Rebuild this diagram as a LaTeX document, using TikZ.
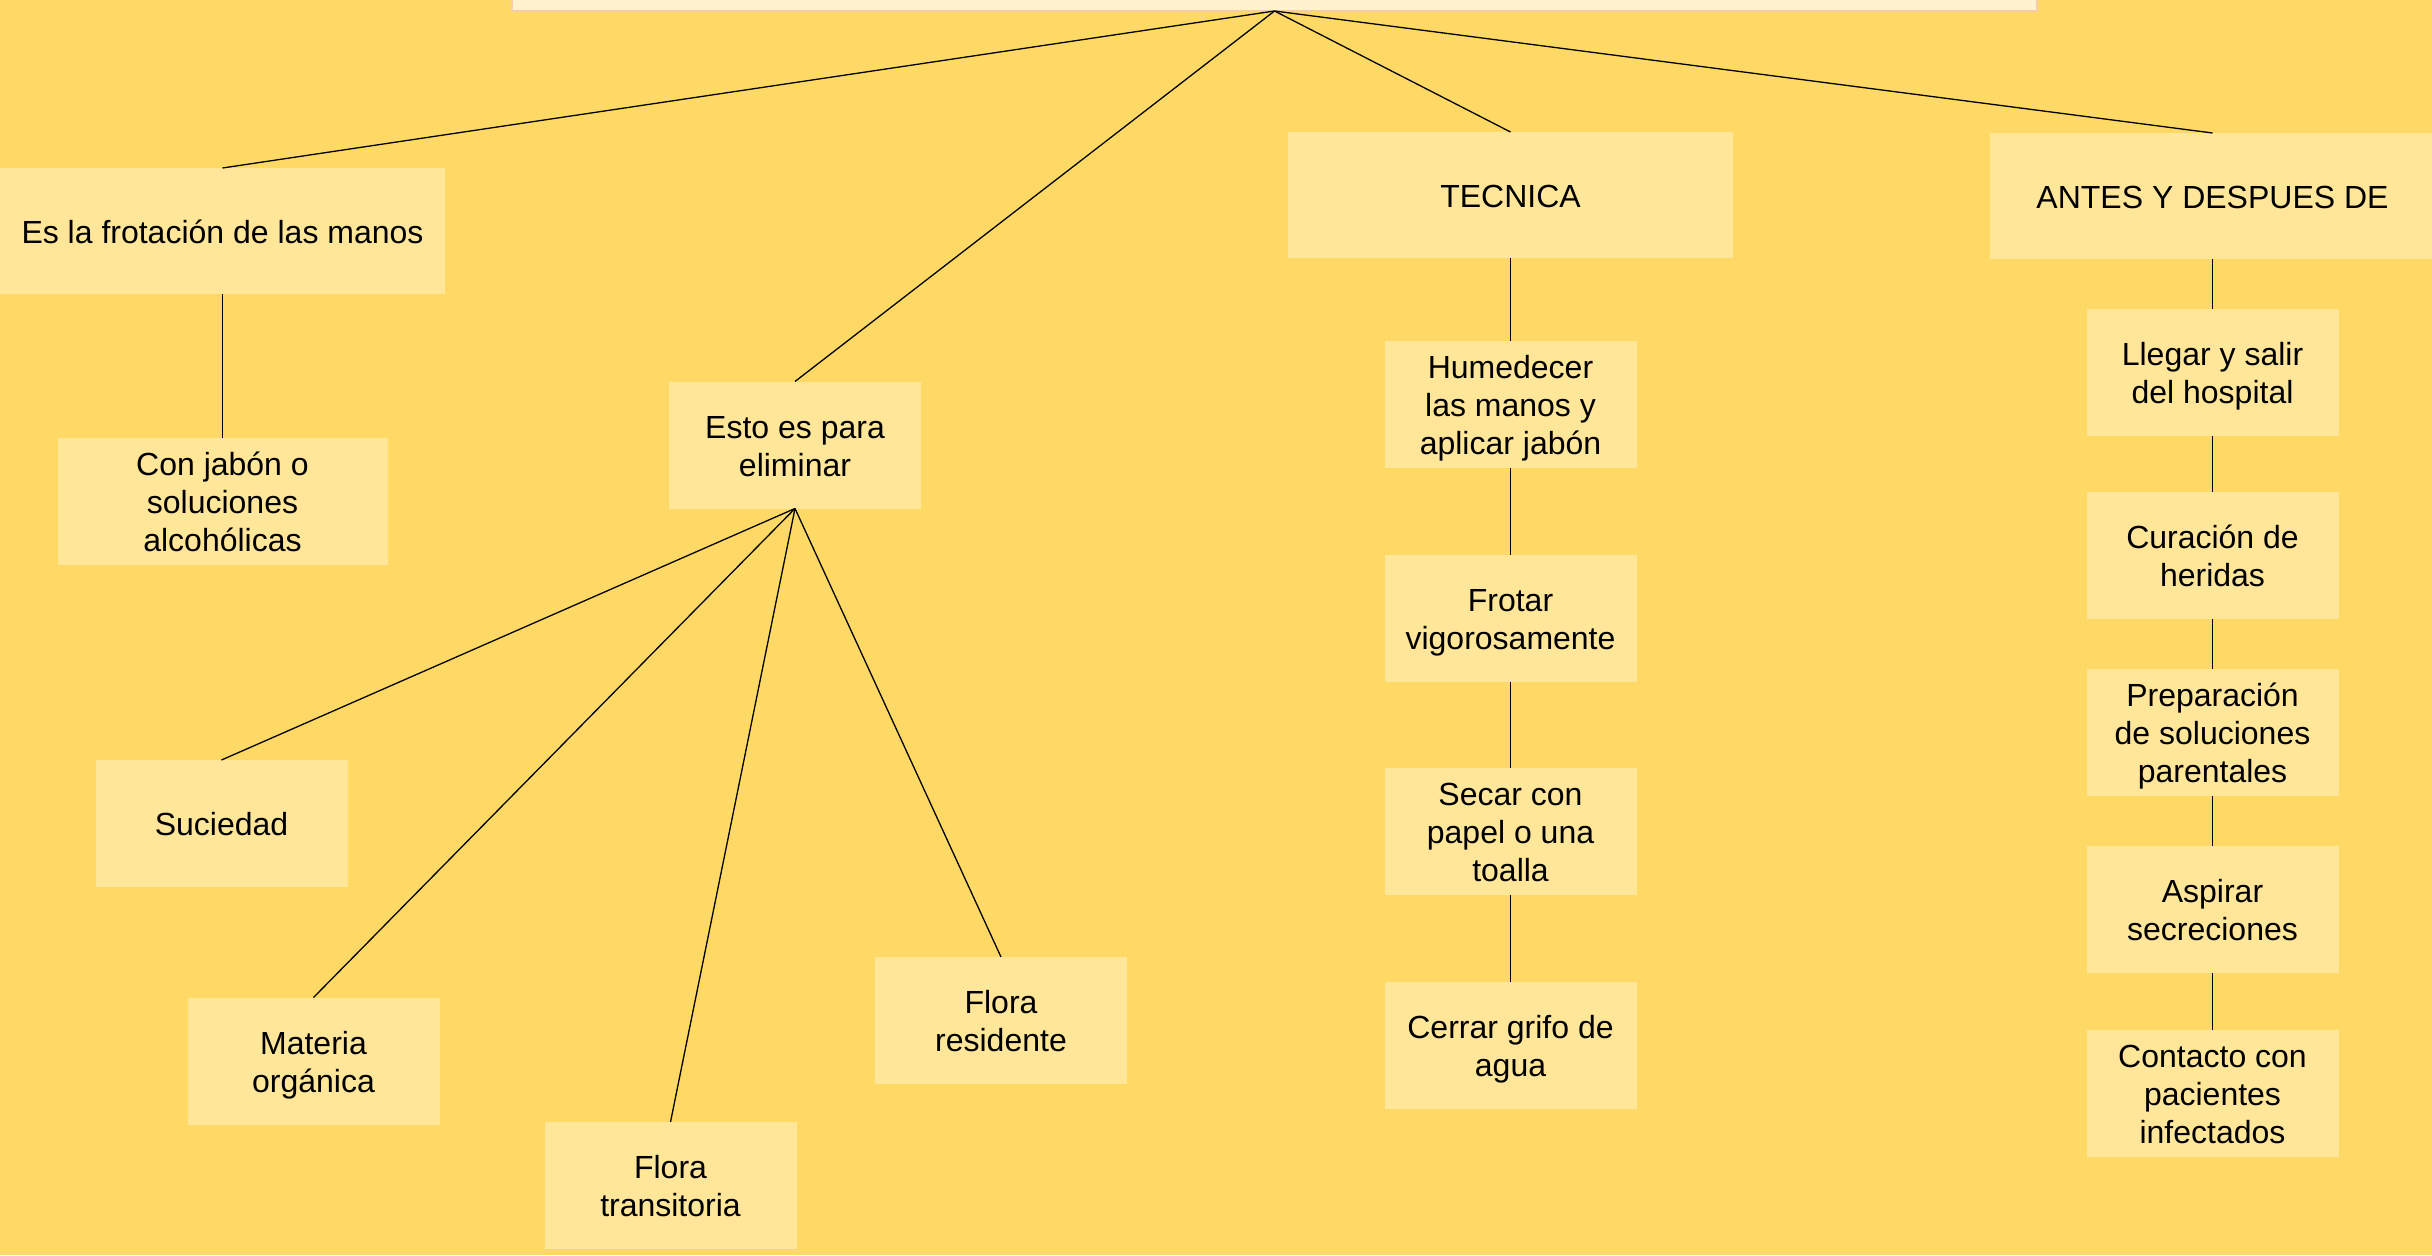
\documentclass[tikz,border=0pt]{standalone}
\usepackage{fontspec}
\setmainfont{Liberation Sans}
\definecolor{bg}{HTML}{FFD966}
\definecolor{boxfill}{HTML}{FFE699}
\definecolor{topfill}{HTML}{FFF2CC}
\definecolor{topborder}{HTML}{F8CBAD}
\newcommand\boxtxt[1]{\raisebox{-4.5pt}[\height][\depth]{\begin{tabular}{@{}c@{}}#1\end{tabular}}}
\tikzset{
  box/.style={rectangle, fill=boxfill, draw=none, outer sep=0pt, inner sep=0pt,
    text=black, font=\fontsize{32}{38}\selectfont,
    minimum width=252pt, minimum height=127pt},
  widebox/.style={box, minimum width=445pt, minimum height=126pt},
  link/.style={draw=black, line width=1.3pt},
  topbox/.style={rectangle, fill=topfill, draw=topborder, line width=1.5pt, outer sep=0pt,
    minimum width=1525pt, minimum height=31pt}
}
\begin{document}
\begin{tikzpicture}[x=1pt,y=-1pt]
\useasboundingbox (0,0) rectangle (2432,1255);
\fill[bg] (0,0) rectangle (2432,1255);

\node[topbox] (top) at (1274.5,-4.5) {};

\node[widebox] (frot) at (222.5,231) {\boxtxt{Es la frotación de las manos}};
\node[box, minimum width=330pt] (jabon) at (222.5,501) {\boxtxt{Con jabón o\\soluciones\\alcohólicas}};

\node[box] (elim) at (795,445) {\boxtxt{Esto es para\\eliminar}};
\node[box] (suc) at (221.5,823.5) {\boxtxt{Suciedad}};
\node[box] (mat) at (313.5,1061) {\boxtxt{Materia\\orgánica}};
\node[box] (ftran) at (670.5,1185.5) {\boxtxt{Flora\\transitoria}};
\node[box] (fres) at (1001,1020.5) {\boxtxt{Flora\\residente}};

\node[widebox] (tec) at (1510.5,195) {\boxtxt{TECNICA}};
\node[box] (hum) at (1510.5,404.5) {\boxtxt{Humedecer\\las manos y\\aplicar jabón}};
\node[box] (frotar) at (1510.5,618) {\boxtxt{Frotar\\vigorosamente}};
\node[box] (secar) at (1510.5,831.5) {\boxtxt{Secar con\\papel o una\\toalla}};
\node[box] (cerrar) at (1510.5,1045.5) {\boxtxt{Cerrar grifo de\\agua}};

\node[widebox] (antes) at (2212.5,196) {\boxtxt{ANTES Y DESPUES DE}};
\node[box] (llegar) at (2212.5,372.5) {\boxtxt{Llegar y salir\\del hospital}};
\node[box] (cura) at (2212.5,555.5) {\boxtxt{Curación de\\heridas}};
\node[box] (prep) at (2212.5,732.5) {\boxtxt{Preparación\\de soluciones\\parentales}};
\node[box] (asp) at (2212.5,909.5) {\boxtxt{Aspirar\\secreciones}};
\node[box] (cont) at (2212.5,1093.5) {\boxtxt{Contacto con\\pacientes\\infectados}};

\draw[link] (top.south) -- (frot.north);
\draw[link] (top.south) -- (elim.north);
\draw[link] (top.south) -- (tec.north);
\draw[link] (top.south) -- (antes.north);

\draw[link] (frot.south) -- (jabon.north);

\draw[link] (elim.south) -- (suc.north);
\draw[link] (elim.south) -- (mat.north);
\draw[link] (elim.south) -- (ftran.north);
\draw[link] (elim.south) -- (fres.north);

\draw[link] (tec.south) -- (hum.north);
\draw[link] (hum.south) -- (frotar.north);
\draw[link] (frotar.south) -- (secar.north);
\draw[link] (secar.south) -- (cerrar.north);

\draw[link] (antes.south) -- (llegar.north);
\draw[link] (llegar.south) -- (cura.north);
\draw[link] (cura.south) -- (prep.north);
\draw[link] (prep.south) -- (asp.north);
\draw[link] (asp.south) -- (cont.north);
\end{tikzpicture}
\end{document}
